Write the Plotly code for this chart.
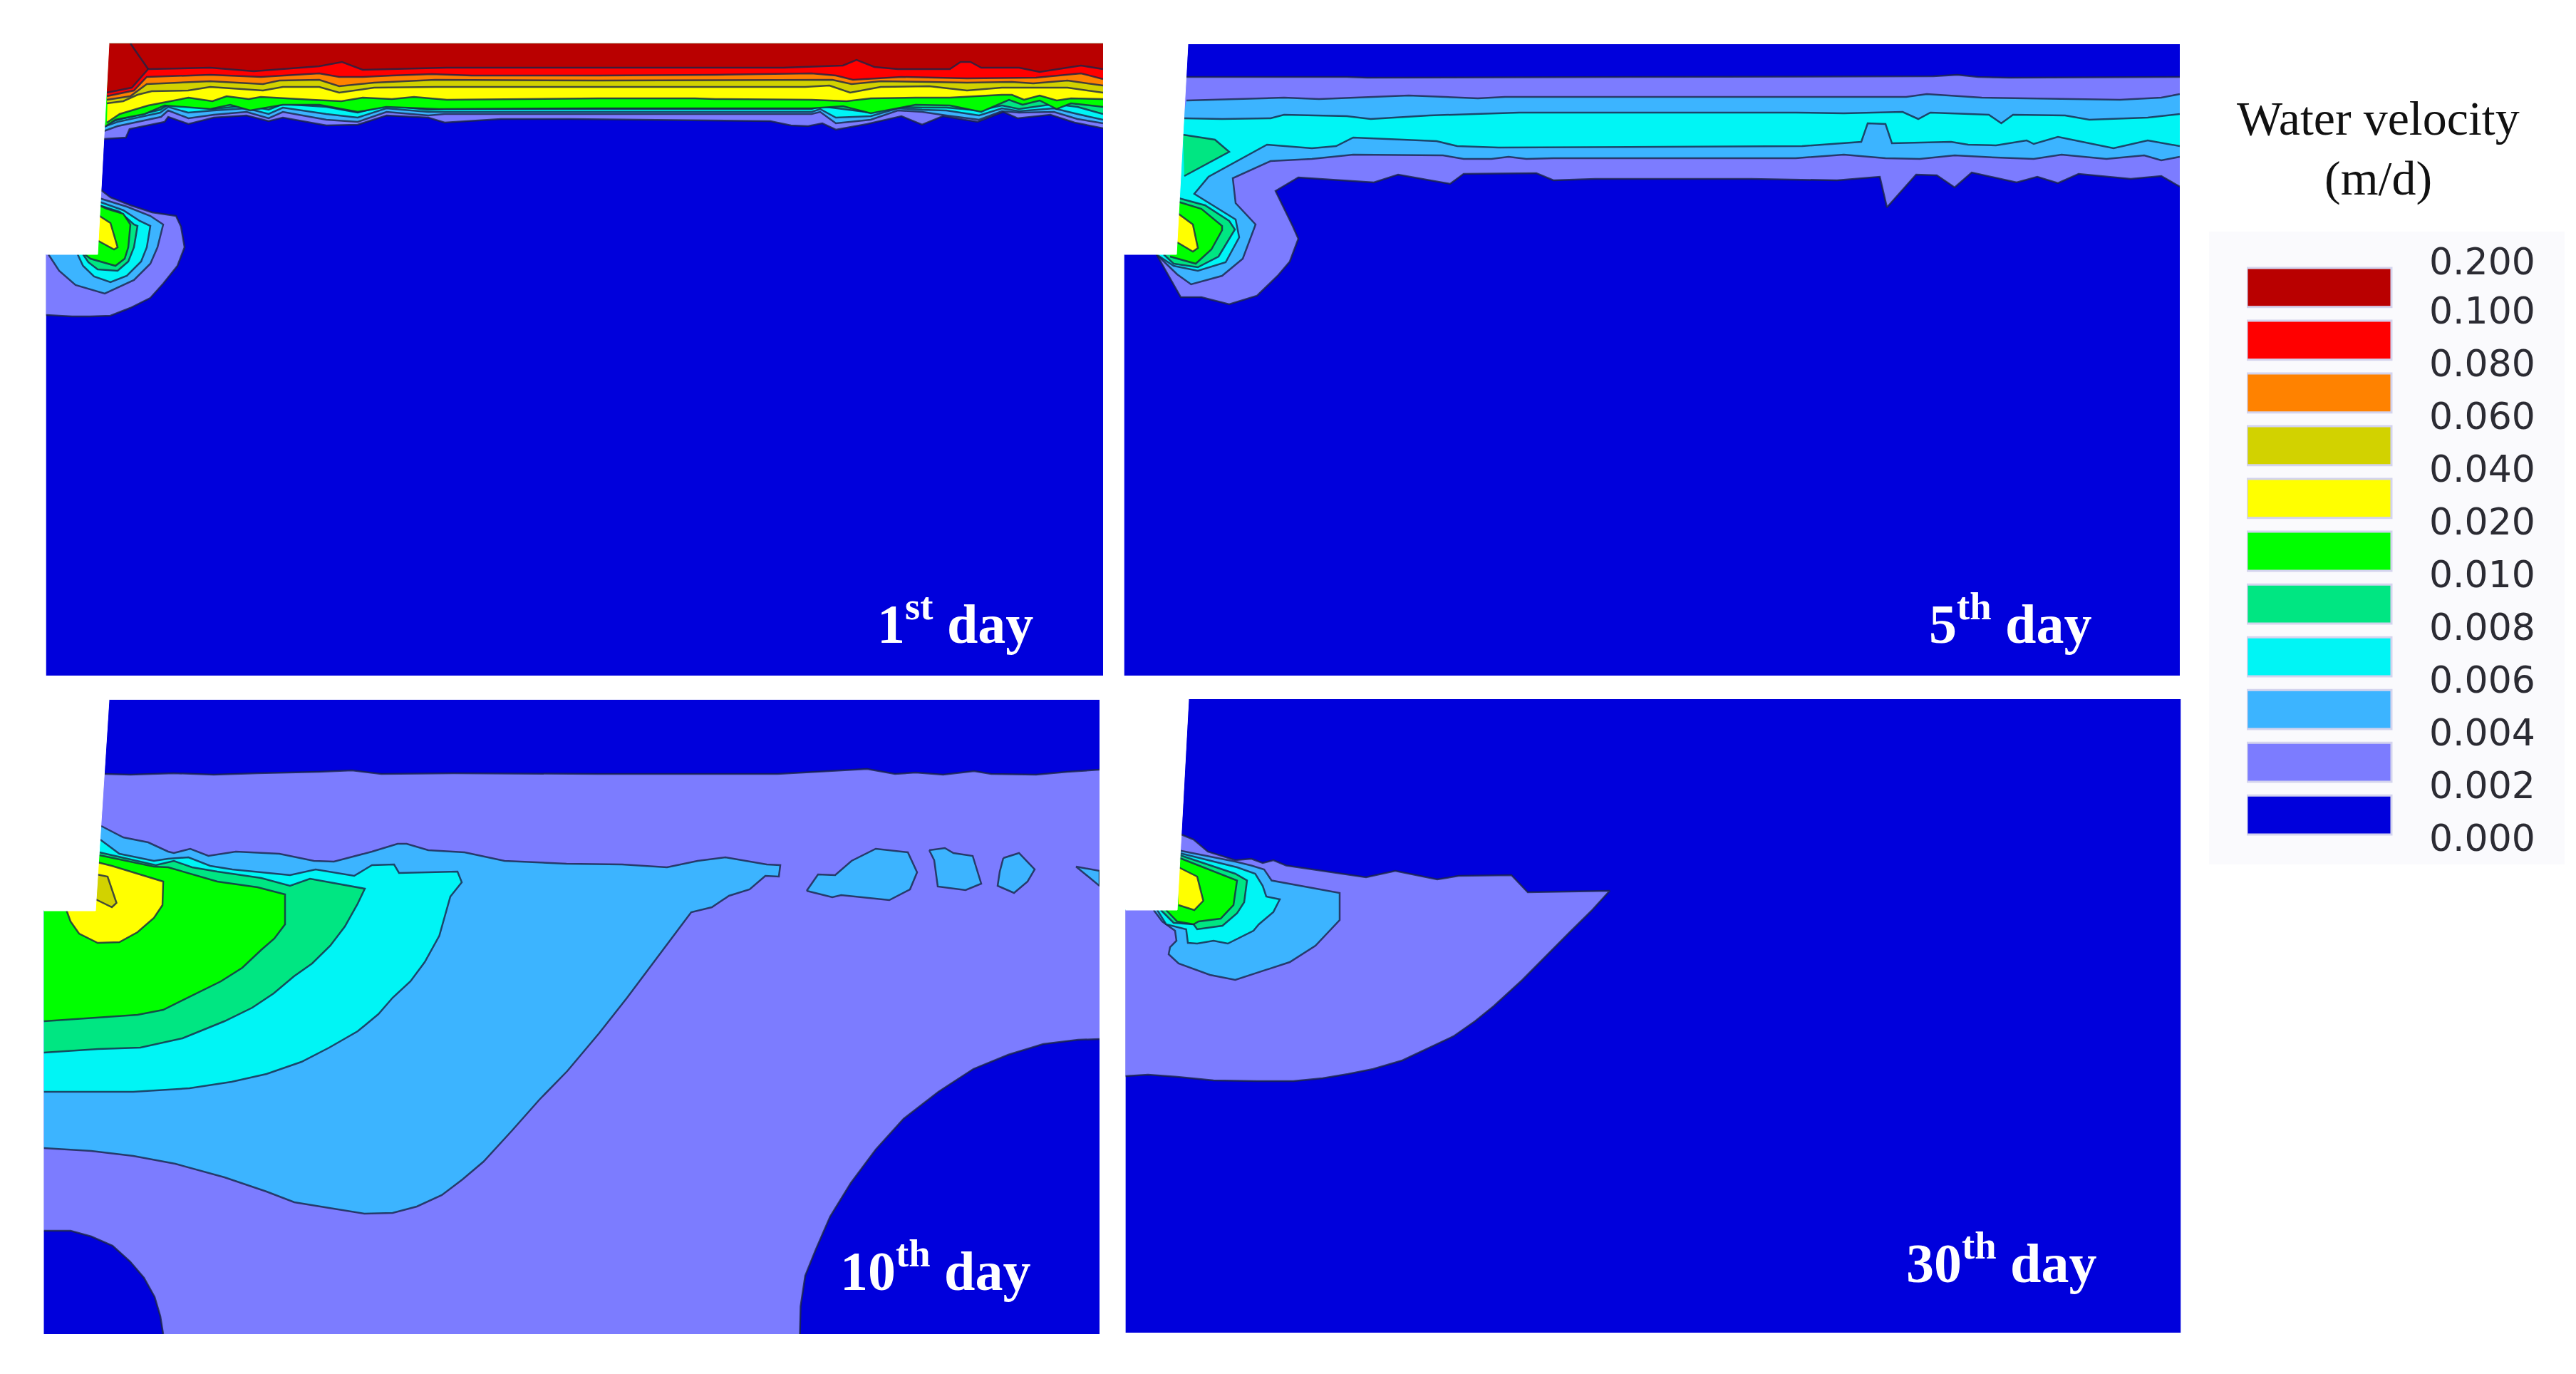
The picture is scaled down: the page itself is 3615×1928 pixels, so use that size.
import plotly.graph_objects as go

LEVELS = ["0.000", "0.002", "0.004", "0.006", "0.008", "0.010", "0.020", "0.040", "0.060", "0.080", "0.100", "0.200"]
BAND_COLORS = ["#0000DC", "#7C7CFF", "#3CB4FF", "#00F5F5", "#00E682", "#00FF00", "#FFFF00", "#D2D200", "#FF8200", "#FF0000", "#B90000"]
DAY_LABELS = ["1<sup>st</sup> day", "5<sup>th</sup> day", "10<sup>th</sup> day", "30<sup>th</sup> day"]

# panel boxes as x0, x1, y0 (top), y1 (bottom), floor of the excavation
BOX1 = (64.5, 1548, 60.7, 948, 357)
BOX2 = (1577.5, 3059, 62, 948, 357)
BOX3 = (61.5, 1543, 981.7, 1872, 1278)
BOX4 = (1579.4, 3060.5, 981, 1870, 1277)

# excavation walls (top x, foot x)
WALL1 = (153, 137)
WALL2 = (1667, 1651)
WALL3 = (153, 134)
WALL4 = (1668, 1652)

# ---- 1st day, contours
D1_TOP_002 = [(145.6,195),(176.7,193),(181.8,181),(231,171),(236,164),(264.5,174),(300,165),(346,162),(377,170),(397,165),(458,176),(502,175),(542.5,162),(601,165),(624,172),(703,167),(800,167),(960,169),(1081,170),(1110,176),(1134,177),(1154,173),(1173,182),(1217,174),(1265,163),(1294,175),(1323,163),(1372,171),(1408,157),(1428,166),(1474,161),(1508,172),(1548,180)]
D1_TOP_004 = [(145.6,184),(165,177),(226,164),(236,155),(264.5,166),(300,161),(346,157),(377,166),(397,157),(458,168),(502,171),(542.5,157),(601,162),(624,160),(703,160),(840,160),(1139,160),(1151,157),(1173,173),(1222,168),(1260,155),(1294,157),(1328,162),(1374,168),(1406,156),(1430,158),(1479,157),(1512,167),(1548,173)]
D1_TOP_006 = [(145,178),(165,171),(225,158),(236,150),(264,158),(300,155),(346,152),(377,160),(397,151),(458,160),(502,165),(542,152),(601,157),(624,157),(703,157),(840,157),(1139,157),(1151,153),(1173,165),(1222,163),(1260,152),(1294,154),(1328,155),(1374,162),(1406,152),(1430,156),(1479,152),(1512,160),(1548,168)]
D1_TOP_008 = [(145,175),(165,168),(225,154),(236,147),(264,148),(300,153),(346,148),(377,154),(397,146),(458,150),(502,158),(542,148),(601,154),(624,153),(703,153),(840,153),(1139,153),(1151,149),(1173,152),(1222,158),(1260,150),(1294,151),(1328,151),(1374,155),(1406,148),(1430,153),(1479,146),(1512,150),(1548,160)]
D1_TOP_010 = [(147,178),(162,168),(203,160),(231,148),(295,153),(323,147),(351,155),(397,147),(448,147),(502,157),(542,150),(616,153),(840,152),(1139,152),(1183,149),(1222,159),(1285,147),(1333,148),(1377,157),(1416,140),(1435,147),(1459,141),(1483,153),(1503,145),(1548,150)]
D1_TOP_020 = [(150,172),(168,160),(208,148),(264.5,137),(298,142),(318,135),(349,139),(366,136),(438,140),(479,142),(509,137),(550,139),(581,136),(627,140),(840,138),(975,138),(1004,139),(1139,140),(1188,142),(1222,138),(1285,137),(1333,137),(1406,133),(1420,133),(1437,140),(1459,134),(1483,141),(1503,138),(1548,139)]
D1_TOP_040 = [(150,145),(173,142),(193,133),(213,128),(264,127),(295,122),(369,127),(397,122),(448,122),(476,130),(525,123),(611,122),(840,122),(1130,122),(1164,120),(1193,130),(1236,122),(1304,121),(1357,127),(1406,123),(1498,123),(1548,130)]
D1_TOP_060 = [(150,140),(183,135),(206,118),(264,115),(295,114),(369,118),(392,113),(448,112),(476,121),(525,116),(611,112),(840,113),(1130,112),(1168,112),(1195,118),(1236,114),(1304,115),(1357,116),(1420,115),(1450,117),(1498,113),(1548,120)]
D1_TOP_080 = [(150,135),(188,127),(206,108),(295,105),(366,108),(448,103),(476,108),(509,108),(550,106),(606,104),(662,106),(840,106),(1004,105),(1139,103),(1173,106),(1197,112),(1265,108),(1357,110),(1454,109),(1517,103),(1548,111)]
D1_TOP_100 = [(150,130),(185,123),(208,97),(295,95),(356,100),(448,93),(480,87),(509,98),(627,95),(840,95),(1100,95),(1183,92),(1202,84),(1227,94),(1260,97),(1333,97),(1348,87),(1362,87),(1377,95),(1430,95),(1459,101),(1517,92),(1548,97)]
D1_TOP_100_RIDGE = [(183,61),(208,97)]

D1_BLOB_002 = [(141,266),(155,277),(183,288),(213.5,298),(247,303),(254,318),(259,347),(249,373),(229,398),(211,418),(183,432),(155,443),(127,444),(101,444),(64.5,442)]
D1_BLOB_004 = [(139,278),(178,290),(211,303),(229,315),(221,347),(211,370),(188,393),(147,412),(106,400),(83,380),(68,357)]
D1_BLOB_006 = [(139,283),(173,295),(196,310),(211,317),(206,347),(198,367),(178,387),(155,396),(132,388),(116.5,373),(109,357)]
D1_BLOB_008 = [(139,288),(168,297),(188,315),(193,317),(188,347),(180,367),(165,380),(137,378),(124,368),(116.5,357)]
D1_BLOB_010 = [(139,288),(150,293),(173,300),(183,315),(180,347),(175,363),(162,373),(142,367),(127,363),(119,357)]
D1_BLOB_020 = [(138,302),(155,313),(165,347),(160,350),(138,338)]

# ---- 5th day
D5_002_TOP = [(1665,108),(1739,108),(1890,108),(1919,109),(2713,107),(2747,105),(2776,108),(2820,109),(3059,108)]
D5_002_LOW = [(3059,262),(3033,247),(2990,251),(2917,244),(2888,257),(2859,248),(2830,256),(2767,242),(2743,263),(2718,246),(2689,245),(2648,291),(2638,248),(2578,253),(2457,251),(2239,251),(2180,253),(2156,243),(2054,244),(2035,258),(1962,245),(1928,256),(1822,249),(1790,268),(1814,317),(1822,335),(1810,367),(1793,387),(1764,415),(1725,427),(1686,417),(1657,417),(1623,357)]
D5_004_TOP = [(1665,141),(1802,137),(1851,139),(1977,134),(2074,138),(2112,136),(2675,136),(2704,132),(2781,137),(2917,139),(2975,140),(3033,137),(3059,132)]
D5_004_LOW = [(3059,220),(3033,225),(3009,218),(2956,223),(2893,217),(2854,223),(2801,221),(2743,218),(2694,223),(2646,222),(2587.5,217),(2520,222),(2180,222),(2142,223),(2117,220),(2093,223),(2054,223),(2025,218),(1899,217),(1841,223),(1783,226),(1730,250),(1734,285),(1762,315),(1744,363),(1715,387),(1671.5,399),(1652,385),(1623,357)]
D5_006_TOP = [(1662,166),(1715,167),(1783,166),(1802,161),(1890,163),(1923.5,167),(2006,162),(2132,158),(2520,158),(2587.5,159),(2670,157),(2692,167),(2709,158),(2791,161),(2808.5,173),(2825,161),(2898,162),(2932,168),(3014,165),(3059,160)]
D5_006_LOW = [(3059,205),(3014,197),(2966,208),(2888,192),(2854,202),(2844,197),(2801,204),(2762,203),(2738,199),(2655,201),(2646,174),(2621,173),(2612,199),(2529,205),(2103,207),(2045,205),(2016,198),(1899,193),(1875,205),(1841,208),(1778,203),(1696,248),(1676,272),(1734,308),(1739,333),(1720,368),(1681,380),(1647,373),(1623,357)]
D5_008_PATCH = [(1660,189),(1705,196),(1725,213),(1662,247)]
D5_BLOB_008 = [(1654,278),(1691,288),(1725,310),(1733,322),(1710,360),(1681,375),(1647,370),(1633,357)]
D5_BLOB_010 = [(1653,283),(1686,293),(1715,317),(1715,323),(1700,350),(1678,370),(1642,360)]
D5_BLOB_020 = [(1651,298),(1674,315),(1681,348),(1674,353),(1652,340)]

# ---- 10th day
D10_002_TOP = [(147,1086),(183,1087),(244,1085),(300,1087),(361,1085),(448,1083),(494,1081),(535,1086),(637,1085),(840,1086),(1091,1086),(1149,1083),(1217,1079),(1256,1086),(1285,1084),(1323.5,1087),(1367,1082),(1391,1086),(1454,1087),(1498,1083),(1543,1080)]
D10_HOLE_RIGHT = [(1122.5,1872),(1123.5,1833),(1130,1790),(1145,1753),(1165,1707),(1194,1660),(1229,1613),(1268,1570),(1317,1532),(1366,1500),(1415,1480),(1464,1465),(1513,1459),(1543,1458)]
D10_HOLE_LEFT = [(61.5,1727),(99,1727),(128,1735),(158,1748),(182.4,1770),(202,1793),(217,1820),(225,1847),(229,1872)]
D10_004 = [(142,1159),(173,1175),(208,1182),(236,1195),(244,1197),(267,1191),(292.5,1201),(331,1195),(392,1198),(440.5,1208),(468.6,1209),(522,1195),(558,1184),(570.6,1184),(601,1193),(652,1196),(708,1208),(795,1212),(873,1213),(936,1217),(979,1208),(1018,1203),(1076,1213),(1095,1214),(1093,1230),(1074,1229),(1052,1248),(1023,1257),(999,1273),(970,1280),(955,1300),(880,1400),(840.6,1450),(796,1503),(757,1543),(718,1587),(678.5,1630),(649,1655),(620,1677),(585,1693),(551,1702),(511.5,1703),(462,1695),(413,1687),(374,1672),(315,1652),(246,1633),(187,1622),(128,1615),(61.5,1611)]
D10_ISLAND_A = [(1132,1250),(1148,1227),(1172,1228),(1195,1208),(1229,1191),(1274,1196),(1287,1224),(1277,1248),(1248,1263),(1210,1259),(1180.5,1256),(1168,1259),(1132,1250)]
D10_ISLAND_B = [(1304,1193),(1326,1190),(1338,1197),(1365,1201),(1377,1240),(1355,1249),(1316,1244),(1311,1207),(1304,1193)]
D10_ISLAND_C = [(1408,1204),(1430,1197),(1452,1220),(1442,1237),(1423,1253),(1400,1243),(1403,1223),(1408,1204)]
D10_ISLAND_D = [(1510,1216),(1543,1222),(1543,1243),(1510,1216)]
D10_006 = [(140.5,1178),(167.5,1198),(216,1208),(236,1205),(264.5,1203),(295,1215),(326,1220),(407,1228),(443,1220),(497,1229),(522,1214),(553,1213),(560,1225),(642,1223),(648,1238),(632,1258),(616.5,1313),(596,1350),(576,1377),(551,1400),(531,1423),(502,1447),(462,1470),(423,1490),(374,1507),(325,1518),(266,1527),(187,1532),(61.5,1532)]
D10_008 = [(139.5,1196),(193,1208),(218.6,1214),(244,1208),(269.6,1217),(305,1223),(366.5,1232),(407,1243),(435,1233),(512,1247),(502,1268),(484,1300),(463.5,1327),(438,1352),(412.5,1370),(384,1394),(354,1414),(315,1433),(256,1457),(197,1470),(138,1472),(61.5,1477)]
D10_010 = [(139.5,1200),(216,1216),(236,1217),(264.5,1225),(305,1237),(361.4,1245),(400,1255),(400,1297),(385,1317),(366.5,1333),(340,1358),(310,1377),(263,1400),(229,1417),(193,1424),(101,1430),(61.5,1433)]
D10_020 = [(137,1210),(157,1215),(229,1237),(228,1270),(216,1288),(193,1308),(167.5,1322),(137,1323),(111,1310),(99,1293),(93.6,1278)]
D10_040 = [(136,1227),(151,1230),(163.5,1267),(157,1273),(134.4,1262)]

# ---- 30th day
D30_002 = [(1655.4,1170),(1675,1178),(1695,1195),(1733.5,1207),(1756,1205),(1772,1211),(1787,1207),(1805,1214.5),(1917,1231),(1958,1222),(2017,1234),(2047,1229),(2121,1228),(2144,1252),(2259,1250),(2233.5,1278),(2203,1308),(2172,1339),(2136.5,1375),(2096,1412),(2070,1433),(2040,1454),(2004,1471),(1968,1488),(1927,1500),(1892,1507),(1856,1513),(1815,1517),(1764,1517),(1703,1516),(1652,1511),(1611,1508),(1579.4,1510)]
D30_004 = [(1653,1193),(1733.5,1209),(1756,1214.5),(1774,1220),(1784.5,1235.5),(1880,1253),(1880,1291),(1846,1327),(1810,1350),(1733.5,1375),(1698,1368),(1654,1352),(1640,1339),(1642,1329),(1651,1320),(1649,1306),(1631,1293),(1619,1277)]
D30_006 = [(1653,1196.5),(1736,1217),(1761.5,1226),(1772,1243),(1777,1258),(1796,1262),(1787,1279.6),(1766.6,1297),(1759,1306),(1723,1324),(1703,1320),(1680,1324),(1667,1323),(1664.6,1304),(1636.5,1297),(1624,1277)]
D30_008 = [(1653,1199),(1733.5,1226),(1750,1235.5),(1746,1266),(1736,1281.5),(1715.6,1299),(1680,1304),(1675,1297),(1647,1295),(1629,1277)]
D30_010 = [(1653,1203),(1736,1235.5),(1731,1270),(1713,1289),(1682,1293),(1675,1297),(1652,1293),(1636.5,1277)]
D30_020 = [(1652,1216),(1680,1230),(1688.6,1264),(1676,1277),(1654,1270)]

# level index, how the polygon is closed, contours that bound it
PANEL1 = [(1,"top",[D1_TOP_002]),(2,"top",[D1_TOP_004]),(3,"top",[D1_TOP_006]),(4,"top",[D1_TOP_008]),(5,"top",[D1_TOP_010]),
          (6,"top",[D1_TOP_020]),(7,"top",[D1_TOP_040]),(8,"top",[D1_TOP_060]),(9,"top",[D1_TOP_080]),(10,"top",[D1_TOP_100]),
          (10,"open",[D1_TOP_100_RIDGE]),
          (1,"floor",[D1_BLOB_002]),(2,"floor",[D1_BLOB_004]),(3,"floor",[D1_BLOB_006]),(4,"floor",[D1_BLOB_008]),(5,"floor",[D1_BLOB_010]),(6,"open",[D1_BLOB_020])]
PANEL2 = [(1,"open",[D5_002_TOP,D5_002_LOW]),(2,"open",[D5_004_TOP,D5_004_LOW]),(3,"open",[D5_006_TOP,D5_006_LOW]),
          (4,"open",[D5_008_PATCH]),(4,"open",[D5_BLOB_008]),(5,"open",[D5_BLOB_010]),(6,"open",[D5_BLOB_020])]
PANEL3 = [(1,"bottom",[D10_002_TOP]),(0,"br",[D10_HOLE_RIGHT]),(0,"bl",[D10_HOLE_LEFT]),
          (2,"floor",[D10_004]),(2,"open",[D10_ISLAND_A]),(2,"open",[D10_ISLAND_B]),(2,"open",[D10_ISLAND_C]),(2,"open",[D10_ISLAND_D]),
          (3,"floor",[D10_006]),(4,"floor",[D10_008]),(5,"floor",[D10_010]),(6,"floor",[D10_020]),(7,"open",[D10_040])]
PANEL4 = [(1,"floor",[D30_002]),(2,"floor",[D30_004]),(3,"floor",[D30_006]),(4,"floor",[D30_008]),(5,"floor",[D30_010]),(6,"open",[D30_020])]

W, H = 3615, 1928
LINE_COLOR = "rgba(25,35,70,0.8)"
SERIF = "Liberation Serif"


def closing_points(kind, box, wall):
    x0, x1, y0, y1, floor = box
    if kind == "top":
        return [(x1, y0), (wall[0], y0)]
    if kind == "bottom":
        return [(x1, y1), (x0, y1), (x0, floor)]
    if kind == "floor":
        return [(x0, floor)]
    if kind == "br":
        return [(x1, y1)]
    if kind == "bl":
        return [(x0, y1)]
    return []


def add_panel(fig, n, box, wall, layers):
    x0, x1, y0, y1, floor = box
    xa, ya = "x%d" % n, "y%d" % n
    fig.add_trace(go.Scatter(x=[wall[0], x1, x1, x0, x0, wall[1]], y=[y0, y0, y1, y1, floor, floor], fill="toself", mode="none",
                             fillcolor=BAND_COLORS[0], xaxis=xa, yaxis=ya, showlegend=False, hoverinfo="skip"))
    for level, kind, lines in layers:
        pts = [p for line in lines for p in line] + closing_points(kind, box, wall)
        fig.add_trace(go.Scatter(x=[p[0] for p in pts], y=[p[1] for p in pts], fill="toself", mode="none",
                                 fillcolor=BAND_COLORS[level], xaxis=xa, yaxis=ya, showlegend=False, hoverinfo="skip"))
        for line in lines:
            fig.add_trace(go.Scatter(x=[p[0] for p in line], y=[p[1] for p in line], mode="lines",
                                     line=dict(color=LINE_COLOR, width=2.5), xaxis=xa, yaxis=ya,
                                     showlegend=False, hoverinfo="skip"))
    # excavation is outside the model, paint it white last
    fig.add_trace(go.Scatter(x=[x0, wall[0], wall[1], x0], y=[y0, y0, floor, floor], fill="toself", mode="lines",
                             line=dict(color="white", width=1), fillcolor="white",
                             xaxis=xa, yaxis=ya, showlegend=False, hoverinfo="skip"))
    fig.update_layout({
        "xaxis%d" % n: dict(domain=[x0 / W, x1 / W], range=[x0, x1], visible=False, anchor=ya),
        "yaxis%d" % n: dict(domain=[1 - y1 / H, 1 - y0 / H], range=[y1, y0], visible=False, anchor=xa),
    })


fig = go.Figure()
add_panel(fig, 1, BOX1, WALL1, PANEL1)
add_panel(fig, 2, BOX2, WALL2, PANEL2)
add_panel(fig, 3, BOX3, WALL3, PANEL3)
add_panel(fig, 4, BOX4, WALL4, PANEL4)

# legend swatches, labels sit on the band edges
fig.add_trace(go.Bar(y=list(range(11)), x=[1] * 11, orientation="h", width=0.74,
                     marker=dict(color=BAND_COLORS, line=dict(color="#D4D4EE", width=3)),
                     xaxis="x5", yaxis="y5", showlegend=False, hoverinfo="skip"))
fig.update_layout(
    xaxis5=dict(domain=[3153 / W, 3408 / W], range=[0, 255 / 203], visible=False, anchor="y5"),
    yaxis5=dict(domain=[1 - 1188 / H, 1 - 359 / H], range=[-0.6, 10.6], side="right", anchor="x5", automargin=False,
                tickmode="array", tickvals=[i - 0.44 for i in range(11)] + [10.5], ticktext=LEVELS,
                ticks="", showline=False, showgrid=False, zeroline=False,
                tickfont=dict(family="DejaVu Sans", size=52, color="#2b2b33")),
)

annots = [dict(text="Water velocity", x=3337 / W, y=1 - 166 / H),
          dict(text="(m/d)", x=3337 / W, y=1 - 250 / H)]
annots = [dict(a, xref="paper", yref="paper", showarrow=False, xanchor="center", yanchor="middle",
               font=dict(family=SERIF, size=68, color="#111111")) for a in annots]
label_pos = [(1452, 869), (2937, 869), (1448, 1777), (2944, 1766)]
for i, (lx, ly) in enumerate(label_pos):
    annots.append(dict(text="<b>%s</b>" % DAY_LABELS[i], x=lx, y=ly, xref="x%d" % (i + 1), yref="y%d" % (i + 1),
                       showarrow=False, xanchor="right", yanchor="middle",
                       font=dict(family=SERIF, size=78, color="white")))

fig.update_layout(
    width=W, height=H, margin=dict(l=0, r=0, t=0, b=0, pad=0, autoexpand=False),
    paper_bgcolor="white", plot_bgcolor="rgba(0,0,0,0)", annotations=annots, showlegend=False,
    shapes=[dict(type="rect", xref="paper", yref="paper", x0=3100 / W, x1=3599 / W, y0=1 - 1213 / H, y1=1 - 325 / H,
                 fillcolor="#FAFAFD", line_width=0, layer="below")],
)

# the page body has a default margin, drop it so the figure fills the window
fig.write_html("out.html", config={"displayModeBar": False}, post_script="document.body.style.margin='0';")
